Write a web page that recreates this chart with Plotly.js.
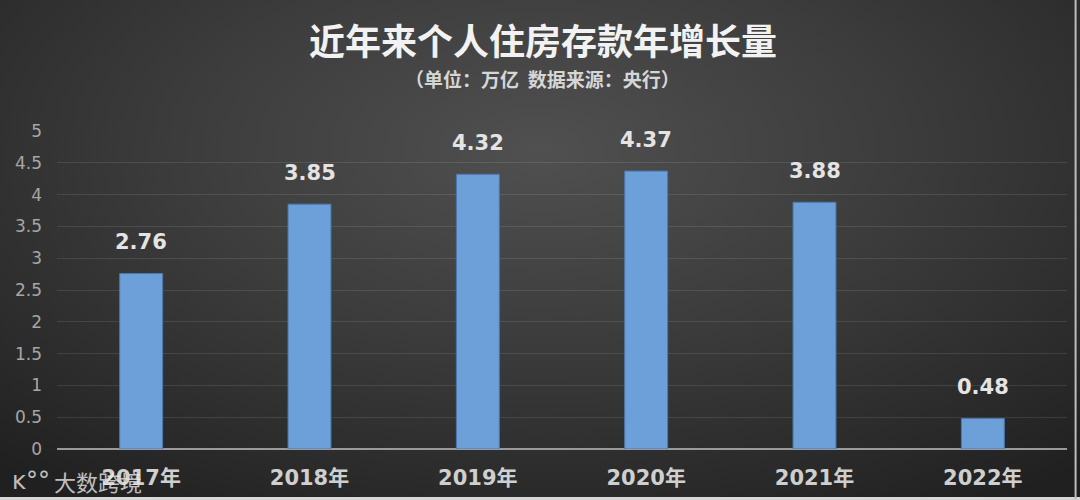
<!DOCTYPE html>
<html>
<head>
<meta charset="utf-8">
<script src="https://cdn.plot.ly/plotly-3.0.1.min.js"></script>
<style>
html,body{margin:0;padding:0;}
#chart{width:1080px;height:500px;background:radial-gradient(ellipse 75% 85% at 50% 30%, #505050 0%, #3c3c3c 45%, #282828 85%, #202020 100%);}
</style>
</head>
<body>
<div id="chart"></div>
<script>
const categories = ['2017年','2018年','2019年','2020年','2021年','2022年'];
const values = [2.76, 3.85, 4.32, 4.37, 3.88, 0.48];
const valueLabels = ['2.76','3.85','4.32','4.37','3.88','0.48'];
const yTicks = [0,0.5,1,1.5,2,2.5,3,3.5,4,4.5,5];
const yTickLabels = ['0','0.5','1','1.5','2','2.5','3','3.5','4','4.5','5'];

const trace = {
  type: 'bar',
  x: categories,
  y: values,
  cliponaxis: false,
  marker: {color: '#6d9fd9', line: {color: '#4d78ab', width: 1}},
  hoverinfo: 'none'
};

const valueAnnotations = categories.map((c, i) => ({
  x: c, y: values[i], xref: 'x', yref: 'y',
  text: valueLabels[i], showarrow: false,
  yanchor: 'bottom', yshift: 17,
  font: {family: 'DejaVu Sans, sans-serif', size: 21, color: '#e4e4e4', weight: 'bold'}
}));

const layout = {
  width: 1080, height: 500,
  paper_bgcolor: 'rgba(0,0,0,0)',
  plot_bgcolor: 'rgba(0,0,0,0)',
  margin: {l: 57, r: 13, t: 131, b: 51},
  bargap: 0.745,
  showlegend: false,
  xaxis: {
    showgrid: false, zeroline: false,
    showline: false,
    ticks: '',
    tickfont: {family: 'DejaVu Sans, Noto Sans CJK SC, sans-serif', size: 21, color: '#cfcfcf', weight: 'bold'},
    ticklabelstandoff: 14
  },
  yaxis: {
    range: [0, 5],
    tickvals: yTicks, ticktext: yTickLabels,
    showgrid: true, gridcolor: 'rgba(255,255,255,0.10)', gridwidth: 1,
    zeroline: true, zerolinecolor: '#9a9a9a', zerolinewidth: 2,
    tickfont: {family: 'DejaVu Sans, sans-serif', size: 17, color: '#a6a6a6'},
    ticklabelstandoff: 14
  },
  annotations: valueAnnotations.concat([
    {text: '近年来个人住房存款年增长量', xref: 'paper', yref: 'paper', x: 0.481, y: 1, xanchor: 'center', yanchor: 'middle',
     yshift: 92, showarrow: false,
     font: {family: 'Noto Sans CJK SC, sans-serif', size: 36, color: '#f2f2f2', weight: 'bold'}},
    {text: '（单位：万亿  数据来源：央行）', xref: 'paper', yref: 'paper', x: 0.481, y: 1, xanchor: 'center', yanchor: 'middle',
     yshift: 53, showarrow: false,
     font: {family: 'Noto Sans CJK SC, sans-serif', size: 19, color: '#d6d6d6', weight: 'bold'}},
    {text: 'ᴋ°°', xref: 'paper', yref: 'paper', x: -0.047, y: 0, xanchor: 'left', yanchor: 'middle',
     yshift: -32, showarrow: false,
     font: {family: 'DejaVu Sans, sans-serif', size: 24, color: 'rgba(235,235,235,0.8)'}},
    {text: '大数跨境', xref: 'paper', yref: 'paper', x: -0.005, y: 0, xanchor: 'left', yanchor: 'middle',
     yshift: -32, showarrow: false,
     font: {family: 'Noto Sans CJK SC, sans-serif', size: 22, color: 'rgba(235,235,235,0.8)'}}
  ]),
  shapes: [
    {type: 'line', xref: 'paper', yref: 'paper', x0: -0.06, x1: 1.02, y0: -0.156, y1: -0.156, line: {color: '#d8d8d8', width: 3}},
    {type: 'line', xref: 'paper', yref: 'paper', x0: 1.0085, x1: 1.0085, y0: -0.16, y1: 1.42, line: {color: '#bdbdbd', width: 2}}
  ]
};

Plotly.newPlot('chart', [trace], layout, {displayModeBar: false, staticPlot: true});
</script>
</body>
</html>
